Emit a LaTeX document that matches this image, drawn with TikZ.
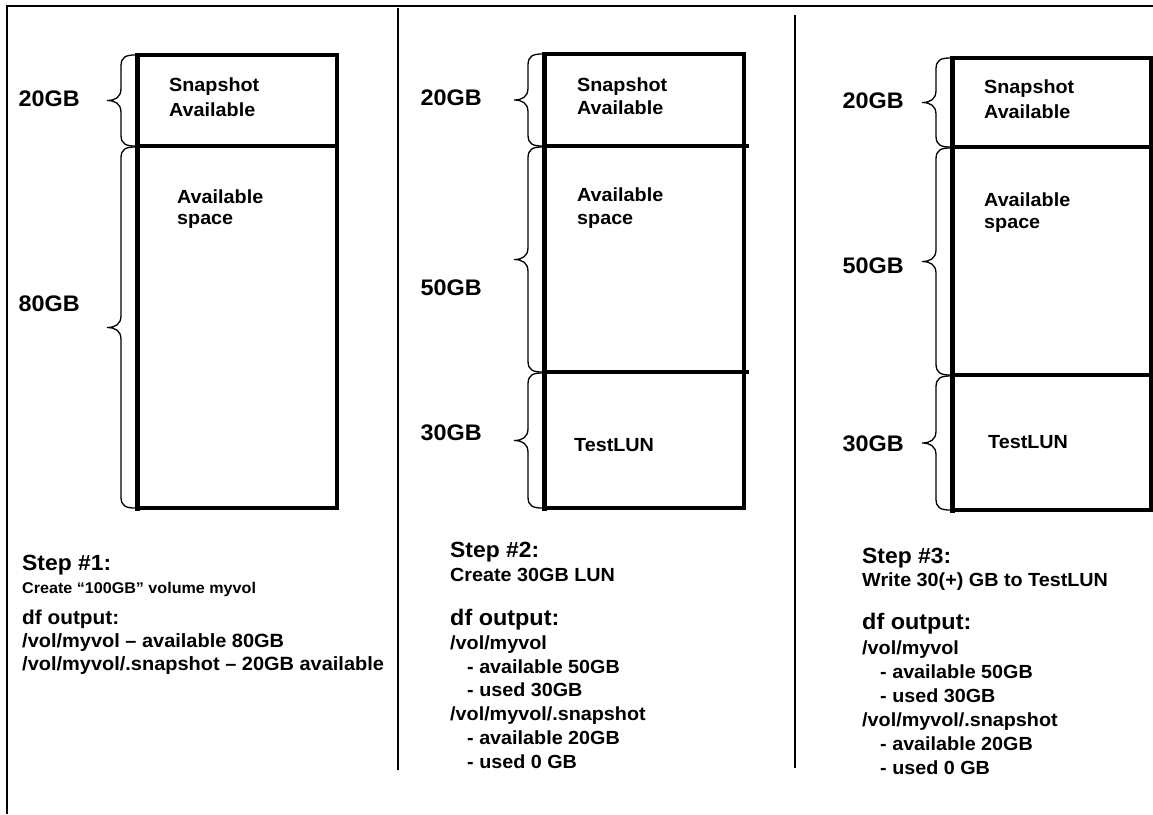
\documentclass[tikz,border=0pt]{standalone}
\usepackage{fontspec}
\setmainfont{Liberation Sans}[FakeStretch=1.04]
\begin{document}
\begin{tikzpicture}[x=1pt,y=-1pt,
  frame/.style={line width=2.6pt},
  divider/.style={line width=1.1pt},
  boxline/.style={line width=4pt, line cap=rect},
  boxleft/.style={line width=5pt, line cap=rect},
  szbrace/.style={line width=1.3pt},
  gb/.style={anchor=base east, inner sep=0pt, font=\fontsize{22.5}{26}\selectfont\bfseries},
  intxt/.style={anchor=base west, inner sep=0pt, font=\fontsize{19}{22}\selectfont\bfseries},
  steptxt/.style={anchor=base west, inner sep=0pt, font=\fontsize{22}{26}\selectfont\bfseries},
  crsmall/.style={anchor=base west, inner sep=0pt, font=\fontsize{15.5}{18}\selectfont\bfseries},
  crtxt/.style={anchor=base west, inner sep=0pt, font=\fontsize{19}{22}\selectfont\bfseries},
  dfsmall/.style={anchor=base west, inner sep=0pt, font=\fontsize{20}{22}\selectfont\bfseries},
  dftxt/.style={anchor=base west, inner sep=0pt, font=\fontsize{22.5}{26}\selectfont\bfseries},
  volsmall/.style={anchor=base west, inner sep=0pt, font=\fontsize{19.2}{22}\selectfont\bfseries},
  voltxt/.style={anchor=base west, inner sep=0pt, font=\fontsize{19}{22}\selectfont\bfseries}
]
\useasboundingbox (0,0) rectangle (1153,814);
\fill[white] (0,0) rectangle (1153,814);

% outer frame (top and left edges)
\coordinate (fl) at (7,814);
\coordinate (fc) at (7,6);
\coordinate (fr) at (1160,6);
\draw[frame] (fl) -- (fc) -- (fr);

% dividers
\coordinate (d1t) at (398,8);   \coordinate (d1b) at (398,770);
\coordinate (d2t) at (795,15);  \coordinate (d2b) at (795,768);
\draw[divider] (d1t) -- (d1b);
\draw[divider] (d2t) -- (d2b);

% brace macro: x of box edge, top y, bottom y
\newcommand{\sizebrace}[3]{%
  \pgfmathsetmacro{\ym}{(#2+#3)/2}%
  \draw[szbrace] (#1,#2) .. controls ({#1-9},#2) and ({#1-14},{#2+2}) .. ({#1-14},{#2+11})
    -- ({#1-14},{\ym-12}) .. controls ({#1-14},{\ym-3}) and ({#1-20},\ym) .. ({#1-28},\ym)
    .. controls ({#1-20},\ym) and ({#1-14},{\ym+3}) .. ({#1-14},{\ym+12})
    -- ({#1-14},{#3-11}) .. controls ({#1-14},{#3-2}) and ({#1-9},#3) .. (#1,#3);}

% ---------------- Box 1 ----------------
\coordinate (b1tl) at (137,55);  \coordinate (b1tr) at (337,55);
\coordinate (b1bl) at (137,508); \coordinate (b1br) at (337,508);
\coordinate (b1ml) at (137,146); \coordinate (b1mr) at (337,146);
\draw[boxline] (b1tl) -- (b1tr) -- (b1br) -- (b1bl);
\draw[boxline] (b1ml) -- (b1mr);
\draw[boxleft] (b1tl) -- (b1bl);
\sizebrace{135}{55}{146}
\sizebrace{135}{147}{508}
\node[gb] (g1a) at (80,106) {20GB};
\node[gb] (g1b) at (80,311) {80GB};
\node[intxt] (i1a) at (169,91) {Snapshot};
\node[intxt] (i1b) at (169,116) {Available};
\node[intxt] (i1c) at (177,203) {Available};
\node[intxt] (i1d) at (177,224) {space};

% ---------------- Box 2 ----------------
\coordinate (b2tl) at (544,54);  \coordinate (b2tr) at (744,54);
\coordinate (b2bl) at (544,508); \coordinate (b2br) at (744,508);
\coordinate (b2ml) at (544,146); \coordinate (b2mr) at (747,146);
\coordinate (b2nl) at (544,372); \coordinate (b2nr) at (747,372);
\draw[boxline] (b2tl) -- (b2tr) -- (b2br) -- (b2bl);
\draw[boxline] (b2ml) -- (b2mr);
\draw[boxline] (b2nl) -- (b2nr);
\draw[boxleft] (b2tl) -- (b2bl);
\sizebrace{542}{54}{146}
\sizebrace{542}{147}{372}
\sizebrace{542}{373}{508}
\node[gb] (g2a) at (482,105) {20GB};
\node[gb] (g2b) at (482,295) {50GB};
\node[gb] (g2c) at (482,440) {30GB};
\node[intxt] (i2a) at (577,91) {Snapshot};
\node[intxt] (i2b) at (577,114) {Available};
\node[intxt] (i2c) at (577,201) {Available};
\node[intxt] (i2d) at (577,224) {space};
\node[intxt] (i2e) at (574,451) {TestLUN};

% ---------------- Box 3 ----------------
\coordinate (b3tl) at (952,58);  \coordinate (b3tr) at (1151,58);
\coordinate (b3bl) at (952,510); \coordinate (b3br) at (1151,510);
\coordinate (b3ml) at (952,147); \coordinate (b3mr) at (1151,147);
\coordinate (b3nl) at (952,375); \coordinate (b3nr) at (1151,375);
\draw[boxline] (b3tl) -- (b3tr) -- (b3br) -- (b3bl);
\draw[boxline] (b3ml) -- (b3mr);
\draw[boxline] (b3nl) -- (b3nr);
\draw[boxleft] (b3tl) -- (b3bl);
\sizebrace{950}{58}{147}
\sizebrace{950}{148}{375}
\sizebrace{950}{376}{510}
\node[gb] (g3a) at (904,108) {20GB};
\node[gb] (g3b) at (904,273) {50GB};
\node[gb] (g3c) at (904,451) {30GB};
\node[intxt] (i3a) at (984,93) {Snapshot};
\node[intxt] (i3b) at (984,118) {Available};
\node[intxt] (i3c) at (984,206) {Available};
\node[intxt] (i3d) at (984,228) {space};
\node[intxt] (i3e) at (988,448) {TestLUN};

% ---------------- Step 1 text ----------------
\node[steptxt] (s1) at (22,570) {Step \#1:};
\node[crsmall] (c1) at (22,593) {Create “100GB” volume myvol};
\node[dfsmall] (df1) at (22,624) {df output:};
\node[volsmall] (v1a) at (22,647) {/vol/myvol – available 80GB};
\node[volsmall] (v1b) at (22,670) {/vol/myvol/.snapshot – 20GB available};

% ---------------- Step 2 text ----------------
\node[steptxt] (s2) at (450,557) {Step \#2:};
\node[crtxt] (c2) at (450,581) {Create 30GB LUN};
\node[dftxt] (df2) at (450,625) {df output:};
\node[voltxt] (v2a) at (450,649) {/vol/myvol};
\node[voltxt] (v2b) at (467,673) {- available 50GB};
\node[voltxt] (v2c) at (467,696) {- used 30GB};
\node[voltxt] (v2d) at (450,720) {/vol/myvol/.snapshot};
\node[voltxt] (v2e) at (467,744) {- available 20GB};
\node[voltxt] (v2f) at (467,768) {- used 0 GB};

% ---------------- Step 3 text ----------------
\node[steptxt] (s3) at (862,563) {Step \#3:};
\node[crtxt] (c3) at (862,586) {Write 30(+) GB to TestLUN};
\node[dftxt] (df3) at (862,629) {df output:};
\node[voltxt] (v3a) at (862,654) {/vol/myvol};
\node[voltxt] (v3b) at (880,678) {- available 50GB};
\node[voltxt] (v3c) at (880,702) {- used 30GB};
\node[voltxt] (v3d) at (862,726) {/vol/myvol/.snapshot};
\node[voltxt] (v3e) at (880,750) {- available 20GB};
\node[voltxt] (v3f) at (880,774) {- used 0 GB};
\end{tikzpicture}
\end{document}
